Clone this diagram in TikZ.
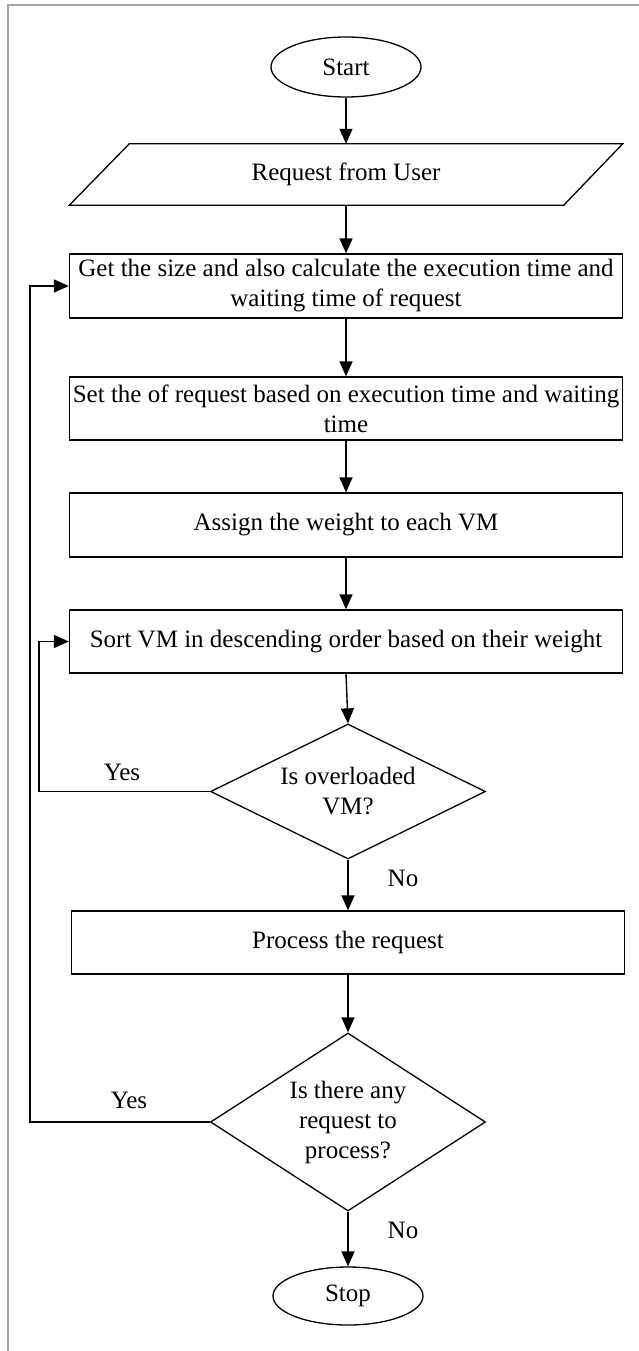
\documentclass[tikz,border=0pt]{standalone}
\usepackage{fontspec}
\setmainfont{Liberation Serif}
\usetikzlibrary{shapes.geometric,arrows.meta}
\begin{document}
\begin{tikzpicture}[x=1pt,y=-1pt,
  every node/.style={font=\fontsize{25}{30}\selectfont},
  stepbox/.style={draw,line width=1.3pt,rectangle,minimum width=553,inner sep=0pt,align=center},
  termbox/.style={draw,line width=1.3pt,ellipse,minimum width=150,minimum height=60,inner sep=0pt},
  decbox/.style={draw,line width=1.3pt,diamond,inner sep=0pt,align=center,minimum width=275},
  arr/.style={line width=1.4pt,-{Triangle[length=15pt,width=13pt]}},
  lbl/.style={inner sep=0pt},
  frame/.style={draw=black!35,line width=2pt}]
\useasboundingbox (0,0) rectangle (639,1351);
\draw[frame] (8,1351) -- (8,5) -- (639,5);

\node[termbox] (start) at (346,67) {Start};
\node[inner sep=0pt,minimum width=553,minimum height=61] (input) at (346,174.5) {Request from User};
\draw[line width=1.3pt] ([xshift=60pt]input.north west) -- (input.north east) -- ([xshift=-59pt]input.south east) -- (input.south west) -- cycle;

\node[stepbox,minimum height=64] (b1) at (346,286) {Get the size and also calculate the execution time and\\waiting time of request};
\node[stepbox,minimum height=63] (b2) at (346,408.5) {Set the of request based on execution time and waiting\\time};
\node[stepbox,minimum height=64] (b3) at (346,525) {Assign the weight to each VM};
\node[stepbox,minimum height=63] (b4) at (346,641.5) {Sort VM in descending order based on their weight};
\node[decbox,minimum height=135,aspect=2.04] (d1) at (348,791.5) {Is overloaded\\VM?};
\node[stepbox,minimum height=63] (b5) at (348,942.5) {Process the request};
\node[decbox,minimum height=178,aspect=1.55] (d2) at (348,1122) {Is there any\\request to\\process?};
\node[termbox,minimum height=58] (stop) at (348,1296) {Stop};

\node[lbl] (y1) at (122,772) {Yes};
\node[lbl] (n1) at (403,878) {No};
\node[lbl] (y2) at (129,1100) {Yes};
\node[lbl] (n2) at (403,1230) {No};

\coordinate (l1) at (39,0);
\coordinate (l2) at (30,0);

\draw[arr] (start) -- (input.north -| start);
\draw[arr] (input.south) -- (b1.north);
\draw[arr] (b1) -- (b2);
\draw[arr] (b2) -- (b3);
\draw[arr] (b3) -- (b4);
\draw[arr] (b4.south) -- (d1.north);
\draw[arr] (d1) -- (b5.north -| d1);
\draw[arr] (b5.south -| d2) -- (d2.north);
\draw[arr] (d2) -- (stop);
\draw[arr] (d1.west) -- (d1.west -| l1) -- (b4.west -| l1) -- (b4.west);
\draw[arr] (d2.west) -- (d2.west -| l2) -- (b1.west -| l2) -- (b1.west);
\end{tikzpicture}
\end{document}
